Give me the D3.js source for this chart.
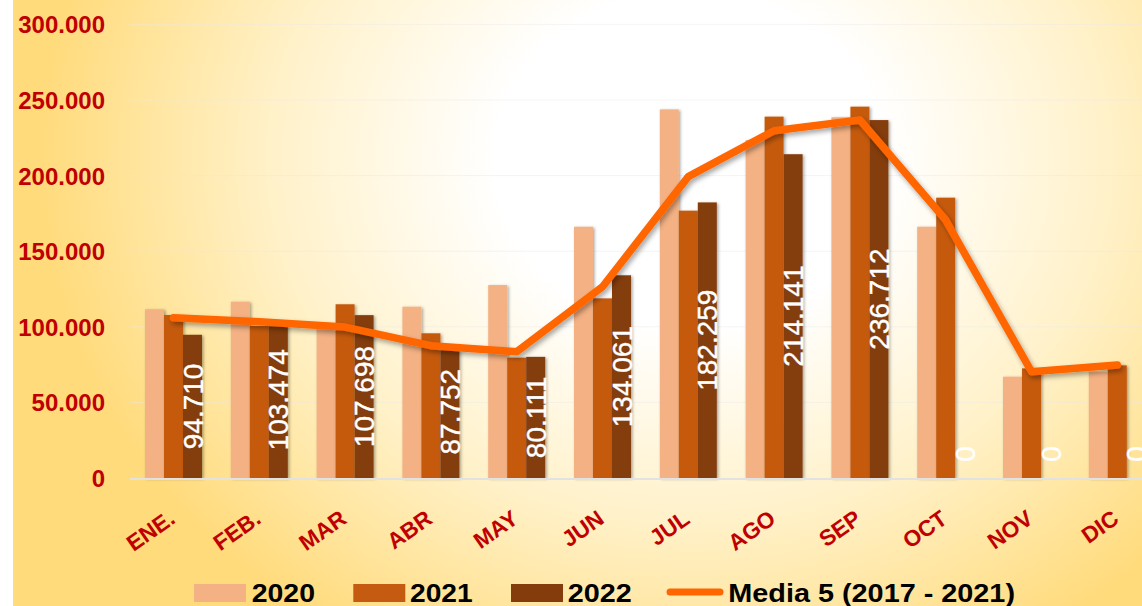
<!DOCTYPE html>
<html>
<head>
<meta charset="utf-8">
<script src="https://cdn.jsdelivr.net/npm/d3@7"></script>
<style>
  html, body { margin: 0; padding: 0; background: #ffffff; }
  svg { display: block; }
</style>
</head>
<body>
<script>
// ---------- data ----------
const months = ["ENE.", "FEB.", "MAR", "ABR", "MAY", "JUN", "JUL", "AGO", "SEP", "OCT", "NOV", "DIC"];
const seriesNames = ["2020", "2021", "2022"];
const values2020 = [111600, 116600, 99000, 113300, 127600, 166200, 243800, 223500, 238600, 166200, 67000, 70000];
const values2021 = [107800, 100500, 114900, 95700, 79600, 118800, 176800, 239000, 245600, 185400, 72500, 74500];
const values2022 = [94710, 103474, 107698, 87752, 80111, 134061, 182259, 214141, 236712, 0, 0, 0];
const media5 = [106000, 103400, 99800, 87500, 83500, 126500, 199300, 229700, 236800, 170600, 70300, 74700];
const mediaName = "Media 5 (2017 - 2021)";
const yTicks = [0, 50000, 100000, 150000, 200000, 250000, 300000];
const barColors = ["#F4B183", "#C55A11", "#843C0C"];
const lineColor = "#FF6600";

const W = 1142, H = 606;
const svg = d3.select("body").append("svg").attr("width", W).attr("height", H);
const defs = svg.append("defs");

const grad = defs.append("radialGradient")
  .attr("id", "bg").attr("gradientUnits", "userSpaceOnUse")
  .attr("cx", 0).attr("cy", 0).attr("r", 1)
  .attr("gradientTransform", "translate(690,160) scale(650,560)");
grad.append("stop").attr("offset", 0).attr("stop-color", "#FFFFFF");
grad.append("stop").attr("offset", 0.3).attr("stop-color", "#FFFFFF");
grad.append("stop").attr("offset", 0.65).attr("stop-color", "#FFF1C8");
grad.append("stop").attr("offset", 1).attr("stop-color", "#FFDB7C");

const fBar = defs.append("filter").attr("id", "barShadow")
  .attr("x", "-30%").attr("y", "-10%").attr("width", "160%").attr("height", "120%");
fBar.append("feDropShadow").attr("dx", 1.5).attr("dy", 1).attr("stdDeviation", 1.5)
  .attr("flood-color", "#000").attr("flood-opacity", 0.35);
const fLine = defs.append("filter").attr("id", "lineShadow")
  .attr("x", "-10%").attr("y", "-20%").attr("width", "120%").attr("height", "140%");
fLine.append("feDropShadow").attr("dx", 2).attr("dy", 3).attr("stdDeviation", 2.5)
  .attr("flood-color", "#000").attr("flood-opacity", 0.35);

svg.append("rect").attr("x", 13).attr("y", 0).attr("width", W - 13).attr("height", H)
  .attr("fill", "url(#bg)");

// ---------- scales ----------
const y = d3.scaleLinear().domain([0, 300000]).range([478, 24.4]);
const x0 = d3.scaleBand().domain(months).range([130.6, 1160.2])
  .paddingInner(0.3357).paddingOuter(0.3357 / 2);
const x1 = d3.scaleBand().domain(seriesNames).range([0, x0.bandwidth()]).padding(0);

const seriesValues = [values2020, values2021, values2022];

// gridlines
svg.append("g").selectAll("line").data(yTicks.slice(1)).join("line")
  .attr("x1", 130).attr("x2", W).attr("y1", d => y(d)).attr("y2", d => y(d))
  .attr("stroke", "#E6E6E6").attr("stroke-opacity", 0.45).attr("stroke-width", 1);

// y axis labels
const yAxis = d3.axisLeft(y).tickValues(yTicks).tickSize(0).tickPadding(0)
  .tickFormat(d => d3.format(",")(d).replace(/,/g, "."));
const gy = svg.append("g").attr("transform", "translate(105,0)").call(yAxis);
gy.select(".domain").remove();
gy.selectAll("text")
  .attr("fill", "#C00000").attr("font-family", "Liberation Sans, Arial, sans-serif")
  .attr("font-size", 24).attr("font-weight", "bold").attr("dy", "0.35em");

// bars
const gBars = svg.append("g");
seriesNames.forEach((s, si) => {
  gBars.append("g").selectAll("rect").data(months).join("rect")
    .attr("x", m => x0(m) + x1(s))
    .attr("y", (m, i) => y(seriesValues[si][i]))
    .attr("width", x1.bandwidth())
    .attr("height", (m, i) => y(0) - y(seriesValues[si][i]))
    .attr("fill", barColors[si])
    .attr("filter", "url(#barShadow)");
});

// baseline
svg.append("line").attr("x1", 130).attr("x2", W).attr("y1", y(0) + 1).attr("y2", y(0) + 1)
  .attr("stroke", "#E2E2E2").attr("stroke-width", 2);

// line
const line = d3.line()
  .x((d, i) => x0(months[i]) + x0.bandwidth() / 2)
  .y(d => y(d));
svg.append("path").datum(media5).attr("d", line)
  .attr("fill", "none").attr("stroke", lineColor).attr("stroke-width", 7.5)
  .attr("stroke-linecap", "round").attr("stroke-linejoin", "round")
  .attr("filter", "url(#lineShadow)");

// data labels (2022)
svg.append("g").selectAll("text").data(months).join("text")
  .attr("transform", (m, i) => {
    const cx = x0(m) + x1("2022") + x1.bandwidth() / 2;
    const cy = Math.min(y(values2022[i] / 2), y(0) - 24);
    return `translate(${cx},${cy}) rotate(-90)`;
  })
  .attr("text-anchor", "middle").attr("dy", "0.36em")
  .attr("font-family", "Liberation Sans, Arial, sans-serif").attr("font-size", 28)
  .attr("fill", "#FFFFFF").attr("stroke", "#FFFFFF").attr("stroke-width", 0.4)
  .text((m, i) => d3.format(",")(values2022[i]).replace(/,/g, "."));

// x labels
svg.append("g").selectAll("text").data(months).join("text")
  .attr("transform", m => `translate(${x0(m) + x0.bandwidth() / 2 + 3},522) rotate(-35)`)
  .attr("text-anchor", "end")
  .attr("font-family", "Liberation Sans, Arial, sans-serif").attr("font-size", 22.5)
  .attr("font-weight", "bold").attr("fill", "#C00000")
  .text(m => m);

// legend
const legend = svg.append("g");
const legItems = [
  { name: seriesNames[0], sx: 194, tx: 251.7, tw: 63.3 },
  { name: seriesNames[1], sx: 353.3, tx: 410, tw: 62.7 },
  { name: seriesNames[2], sx: 511, tx: 567.7, tw: 64 }
];
legItems.forEach((it, i) => {
  legend.append("rect").attr("x", it.sx).attr("y", 584).attr("width", 52).attr("height", 18)
    .attr("fill", barColors[i]);
  legend.append("text").attr("x", it.tx).attr("y", 601.5)
    .attr("font-family", "Liberation Sans, Arial, sans-serif").attr("font-size", 25)
    .attr("font-weight", "bold").attr("fill", "#000")
    .attr("textLength", it.tw).attr("lengthAdjust", "spacingAndGlyphs")
    .text(it.name);
});
legend.append("line").attr("x1", 670).attr("x2", 720).attr("y1", 592).attr("y2", 592)
  .attr("stroke", lineColor).attr("stroke-width", 7).attr("stroke-linecap", "round");
legend.append("text").attr("x", 728.3).attr("y", 601.5)
  .attr("font-family", "Liberation Sans, Arial, sans-serif").attr("font-size", 25)
  .attr("font-weight", "bold").attr("fill", "#000")
  .attr("textLength", 286.7).attr("lengthAdjust", "spacingAndGlyphs")
  .text(mediaName);
</script>
</body>
</html>
